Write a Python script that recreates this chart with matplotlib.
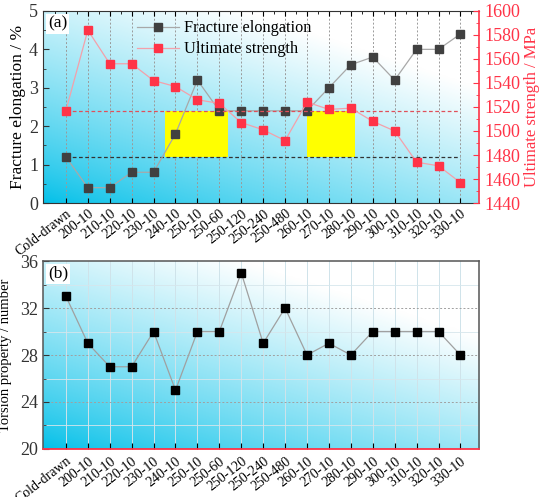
import numpy as np
import matplotlib
matplotlib.use("Agg")
import matplotlib.pyplot as plt
from matplotlib.patches import Rectangle
from matplotlib.ticker import MultipleLocator

plt.rcParams['font.family'] = ['Liberation Serif', 'DejaVu Serif']

categories = ["Cold-drawn", "200-10", "210-10", "220-10", "230-10", "240-10", "250-10",
              "250-60", "250-120", "250-240", "250-480", "260-10", "270-10", "280-10",
              "290-10", "300-10", "310-10", "320-10", "330-10"]
elongation = [1.2, 0.4, 0.4, 0.8, 0.8, 1.8, 3.2, 2.4, 2.4, 2.4, 2.4, 2.4, 3.0, 3.6,
              3.8, 3.2, 4.0, 4.0, 4.4]
strength = [1517, 1584, 1556, 1556, 1542, 1537, 1526, 1523, 1507, 1501, 1492, 1524,
            1518, 1519, 1508, 1500, 1474, 1471, 1457]
torsion = [33, 29, 27, 27, 30, 25, 30, 30, 35, 29, 32, 28, 29, 28, 30, 30, 30, 30, 28]
ref_elong = 1.2
ref_strength = 1517
box1 = (4.5, 7.4)
box2 = (11.0, 13.2)

RED = '#FF3347'
DARK = '#404040'
x = np.arange(len(categories))

fig = plt.figure(figsize=(5.5, 4.97), dpi=100)
ax1 = fig.add_axes([0.078, 0.5915, 0.793, 0.3865])
ax3 = fig.add_axes([0.078, 0.0966, 0.793, 0.3782])

def gradient(ax):
    n = 200
    gx, gy = np.meshgrid(np.linspace(0, 1, n), np.linspace(0, 1, n))
    t = np.clip(0.55 * gx + 0.75 * gy, 0, 1) ** 0.8
    c0 = np.array([0.0, 0.75, 0.91])
    img = c0[None, None, :] * (1 - t[..., None]) + np.ones(3)[None, None, :] * t[..., None]
    ax.imshow(img, extent=[0, 1, 0, 1], transform=ax.transAxes, origin='lower',
              aspect='auto', zorder=0, interpolation='bilinear')

xlim = (-1.05, 18.85)

# ---- top panel ----
gradient(ax1)
ax1.set_xlim(*xlim)
ax1.set_ylim(0, 5)
for xi in x:
    ax1.axvline(xi, color='#9a9a9a', lw=0.7, ls=(0, (2, 2)), zorder=1)
ax2 = ax1.twinx()
ax2.set_ylim(1440, 1600)
ax2.set_xlim(*xlim)

ax1.plot([x[0], x[-1]], [ref_elong, ref_elong], color='#333333', lw=0.9, ls=(0, (3, 2)), zorder=2)
ax2.plot([x[0], x[-1]], [ref_strength, ref_strength], color='#E0505A', lw=0.9, ls=(0, (3, 2)), zorder=2)
y_top = (ref_strength - 1440) / 160 * 5
for b in (box1, box2):
    ax1.add_patch(Rectangle((b[0], ref_elong), b[1] - b[0], y_top - ref_elong,
                            facecolor='#FFFF00', edgecolor='none', zorder=1.5))

l1, = ax1.plot(x, elongation, color='#A8A8A8', lw=0.9, marker='s', ms=5.2,
               mfc=DARK, mec=DARK, zorder=3, label='Fracture elongation')
l2, = ax2.plot(x, strength, color='#F4A0AA', lw=0.9, marker='s', ms=5.2,
               mfc=RED, mec=RED, zorder=3, label='Ultimate strength')

ax1.set_ylabel('Fracture elongation / %', fontsize=12.5, labelpad=2)
ax2.set_ylabel('Ultimate strength / MPa', fontsize=12, color=RED, labelpad=3)
ax1.set_xticks(x)
ax1.set_xticks(np.arange(-0.5, 18.6, 1.0), minor=True)
ax1.set_xticklabels(categories, rotation=38, ha='right', va='top',
                    rotation_mode='anchor', fontsize=10)
ax1.tick_params(axis='x', which='major', direction='in', length=3.5, pad=3, top=True, bottom=True)
ax1.tick_params(axis='x', which='minor', direction='in', length=2.5, top=True, bottom=False)
ax1.yaxis.set_major_locator(MultipleLocator(1))
ax1.yaxis.set_minor_locator(MultipleLocator(0.5))
ax1.tick_params(axis='y', which='both', direction='in', labelsize=13, colors='#333333')
ax1.tick_params(axis='y', which='major', length=4)
ax1.tick_params(axis='y', which='minor', length=2)
ax2.yaxis.set_major_locator(MultipleLocator(20))
ax2.yaxis.set_minor_locator(MultipleLocator(10))
ax2.tick_params(axis='y', which='both', direction='in', labelsize=13, colors=RED)
ax2.tick_params(axis='y', which='major', length=4)
ax2.tick_params(axis='y', which='minor', length=2)
for s in ('left', 'top', 'bottom'):
    ax1.spines[s].set_color('#333333')
ax2.spines['right'].set_color(RED)
ax2.spines['right'].set_linewidth(1.2)
ax1.spines['right'].set_visible(False)
for s in ('left', 'top', 'bottom'):
    ax2.spines[s].set_visible(False)
ax1.text(0.012, 0.975, '(a)', transform=ax1.transAxes, fontsize=12.5, va='top', ha='left',
         bbox=dict(facecolor='white', edgecolor='none', pad=1.5), zorder=5)
leg = ax2.legend([l1, l2], ['Fracture elongation', 'Ultimate strength'], loc='upper left',
                 bbox_to_anchor=(0.2, 0.985), frameon=False, fontsize=11.7,
                 handlelength=2.6, handletextpad=0.3, labelspacing=0.3, borderaxespad=0)

# ---- bottom panel ----
gradient(ax3)
ax3.set_xlim(*xlim)
ax3.set_ylim(20, 36)
for xi in x:
    ax3.axvline(xi, color='#cfe3ea', lw=0.7, zorder=1)
for yv in (22, 26, 30, 34):
    ax3.axhline(yv, color='#d6e6ec', lw=0.6, zorder=1)
for yv in (24, 28, 32):
    ax3.axhline(yv, color='#a0a0a0', lw=0.7, ls=(0, (2, 2)), zorder=1)
ax3.plot(x, torsion, color='#A0A0A0', lw=0.9, marker='s', ms=6, mfc='black', mec='black', zorder=3)
ax3.set_ylabel('Torsion property / number', fontsize=10.5, labelpad=6)
ax3.set_xticks(x)
ax3.set_xticklabels(categories, rotation=38, ha='right', va='top',
                    rotation_mode='anchor', fontsize=10)
ax3.tick_params(axis='x', direction='in', length=4, pad=4)
ax3.yaxis.set_major_locator(MultipleLocator(4))
ax3.yaxis.set_minor_locator(MultipleLocator(2))
ax3.tick_params(axis='y', which='both', direction='in', labelsize=13, colors='#333333')
ax3.tick_params(axis='y', which='major', length=4)
ax3.tick_params(axis='y', which='minor', length=2)
for s in ('left', 'top', 'right'):
    ax3.spines[s].set_color('#555555')
    ax3.spines[s].set_linewidth(1.1)
ax3.spines['bottom'].set_color(RED)
ax3.spines['bottom'].set_linewidth(1.3)
ax3.text(0.012, 0.975, '(b)', transform=ax3.transAxes, fontsize=12.5, va='top', ha='left',
         bbox=dict(facecolor='white', edgecolor='none', pad=1.5), zorder=5)

fig.savefig('out.png', dpi=100)
